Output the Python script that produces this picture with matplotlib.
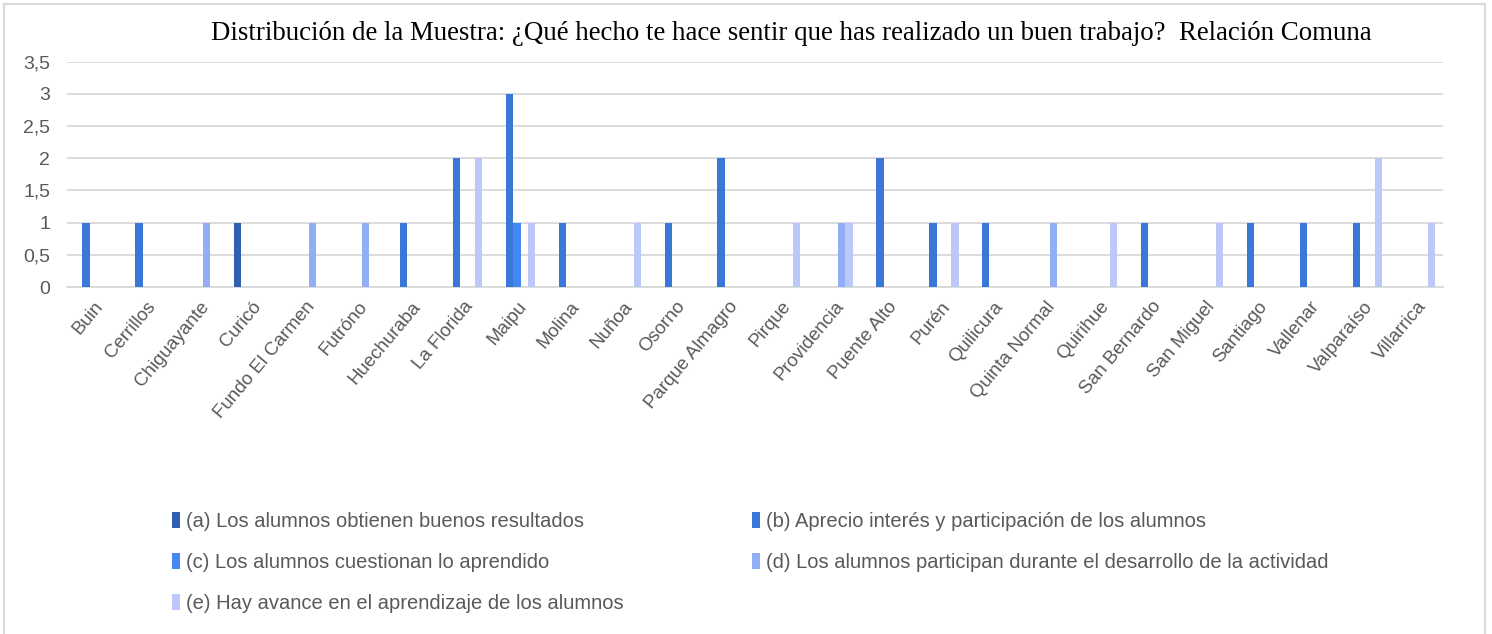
import numpy as np
import matplotlib
matplotlib.use("Agg")
import matplotlib.pyplot as plt
from matplotlib.patches import Rectangle

# ---------------------------------------------------------
# Data
# ---------------------------------------------------------

comunas = [
    "Buin", "Cerrillos", "Chiguayante", "Curicó", "Fundo El Carmen",
    "Futróno", "Huechuraba", "La Florida", "Maipu", "Molina", "Nuñoa",
    "Osorno", "Parque Almagro", "Pirque", "Providencia", "Puente Alto",
    "Purén", "Quilicura", "Quinta Normal", "Quirihue", "San Bernardo",
    "San Miguel", "Santiago", "Vallenar", "Valparaíso", "Villarrica",
]

serie_a = [0, 0, 0, 1, 0, 0, 0, 0, 0, 0, 0, 0, 0, 0, 0, 0, 0, 0, 0, 0, 0, 0, 0, 0, 0, 0]
serie_b = [1, 1, 0, 0, 0, 0, 1, 2, 3, 1, 0, 1, 2, 0, 0, 2, 1, 1, 0, 0, 1, 0, 1, 1, 1, 0]
serie_c = [0, 0, 0, 0, 0, 0, 0, 0, 1, 0, 0, 0, 0, 0, 0, 0, 0, 0, 0, 0, 0, 0, 0, 0, 0, 0]
serie_d = [0, 0, 1, 0, 1, 1, 0, 0, 0, 0, 0, 0, 0, 0, 1, 0, 0, 0, 1, 0, 0, 0, 0, 0, 0, 0]
serie_e = [0, 0, 0, 0, 0, 0, 0, 2, 1, 0, 1, 0, 0, 1, 1, 0, 1, 0, 0, 1, 0, 1, 0, 0, 2, 1]

series_labels = [
    "(a) Los alumnos obtienen buenos resultados",
    "(b) Aprecio interés y participación de los alumnos",
    "(c) Los alumnos cuestionan lo aprendido",
    "(d) Los alumnos participan durante el desarrollo de la actividad",
    "(e) Hay avance en el aprendizaje de los alumnos",
]
series_colors = ["#2E5FB0", "#3A77D8", "#4287F2", "#92AEF6", "#BCC9F8"]

title = ("Distribución de la Muestra: ¿Qué hecho te hace sentir que has "
         "realizado un buen trabajo?  Relación Comuna")

# ---------------------------------------------------------
# Plot
# ---------------------------------------------------------

sans = ["Liberation Sans", "DejaVu Sans"]
grey = "#595959"

fig = plt.figure(figsize=(14.92, 6.34), dpi=100)
fig.patch.set_facecolor("white")
ax = fig.add_axes([67 / 1492, 1 - 287 / 634, (1443 - 67) / 1492, (287 - 61.7) / 634])

# outer chart border
fig.patches.append(Rectangle((4 / 1492, -0.01), (1485 - 4) / 1492, 1.01 - 4 / 634,
                             transform=fig.transFigure, fill=False,
                             edgecolor="#D9D9D9", linewidth=1.5))

x = np.arange(len(comunas))
all_series = [serie_a, serie_b, serie_c, serie_d, serie_e]
bar_w = 1.0 / (5 + 2.19)

handles = []
for k, (vals, col, lab) in enumerate(zip(all_series, series_colors, series_labels)):
    h = ax.bar(x + (k - 2) * bar_w, vals, width=bar_w, color=col, label=lab,
               edgecolor="none", zorder=3)
    handles.append(h)

ax.set_xlim(-0.5, len(comunas) - 0.5)
ax.set_ylim(0, 3.5)
yt = np.arange(0, 3.51, 0.5)
ax.set_yticks(yt)
ax.set_yticklabels([f"{v:g}".replace(".", ",") for v in yt],
                   family=sans, fontsize=14, color=grey)
ax.yaxis.grid(True, color="#D9D9D9", linewidth=1.3, zorder=0)
ax.set_axisbelow(True)

ax.set_xticks(x)
ax.set_xticklabels(comunas, rotation=50, ha="right", rotation_mode="anchor",
                   family=sans, fontsize=13.5, color=grey)
ax.tick_params(axis="y", length=0, pad=12)
ax.tick_params(axis="x", length=0, pad=8)

for s in ["top", "right", "left"]:
    ax.spines[s].set_visible(False)
ax.spines["bottom"].set_color("#D9D9D9")
ax.spines["bottom"].set_linewidth(1.3)

fig.text(791 / 1492, 1 - 34 / 634, title, family=["Liberation Serif", "DejaVu Serif"],
         fontsize=19.4, color="#000000", ha="center", va="center")

# legend: row-major order like the original (a b / c d / e)
order = [0, 2, 4, 1, 3]
leg = fig.legend([handles[i] for i in order], [series_labels[i] for i in order],
                 ncol=2, loc="upper left", bbox_to_anchor=(154 / 1492, 1 - 494 / 634),
                 frameon=False, prop={"family": sans, "size": 14.5},
                 handlelength=0.4, handleheight=0.85, handletextpad=0.3,
                 labelspacing=1.1, columnspacing=6.35, labelcolor=grey)

fig.savefig("out.png", dpi=100, facecolor="white")
